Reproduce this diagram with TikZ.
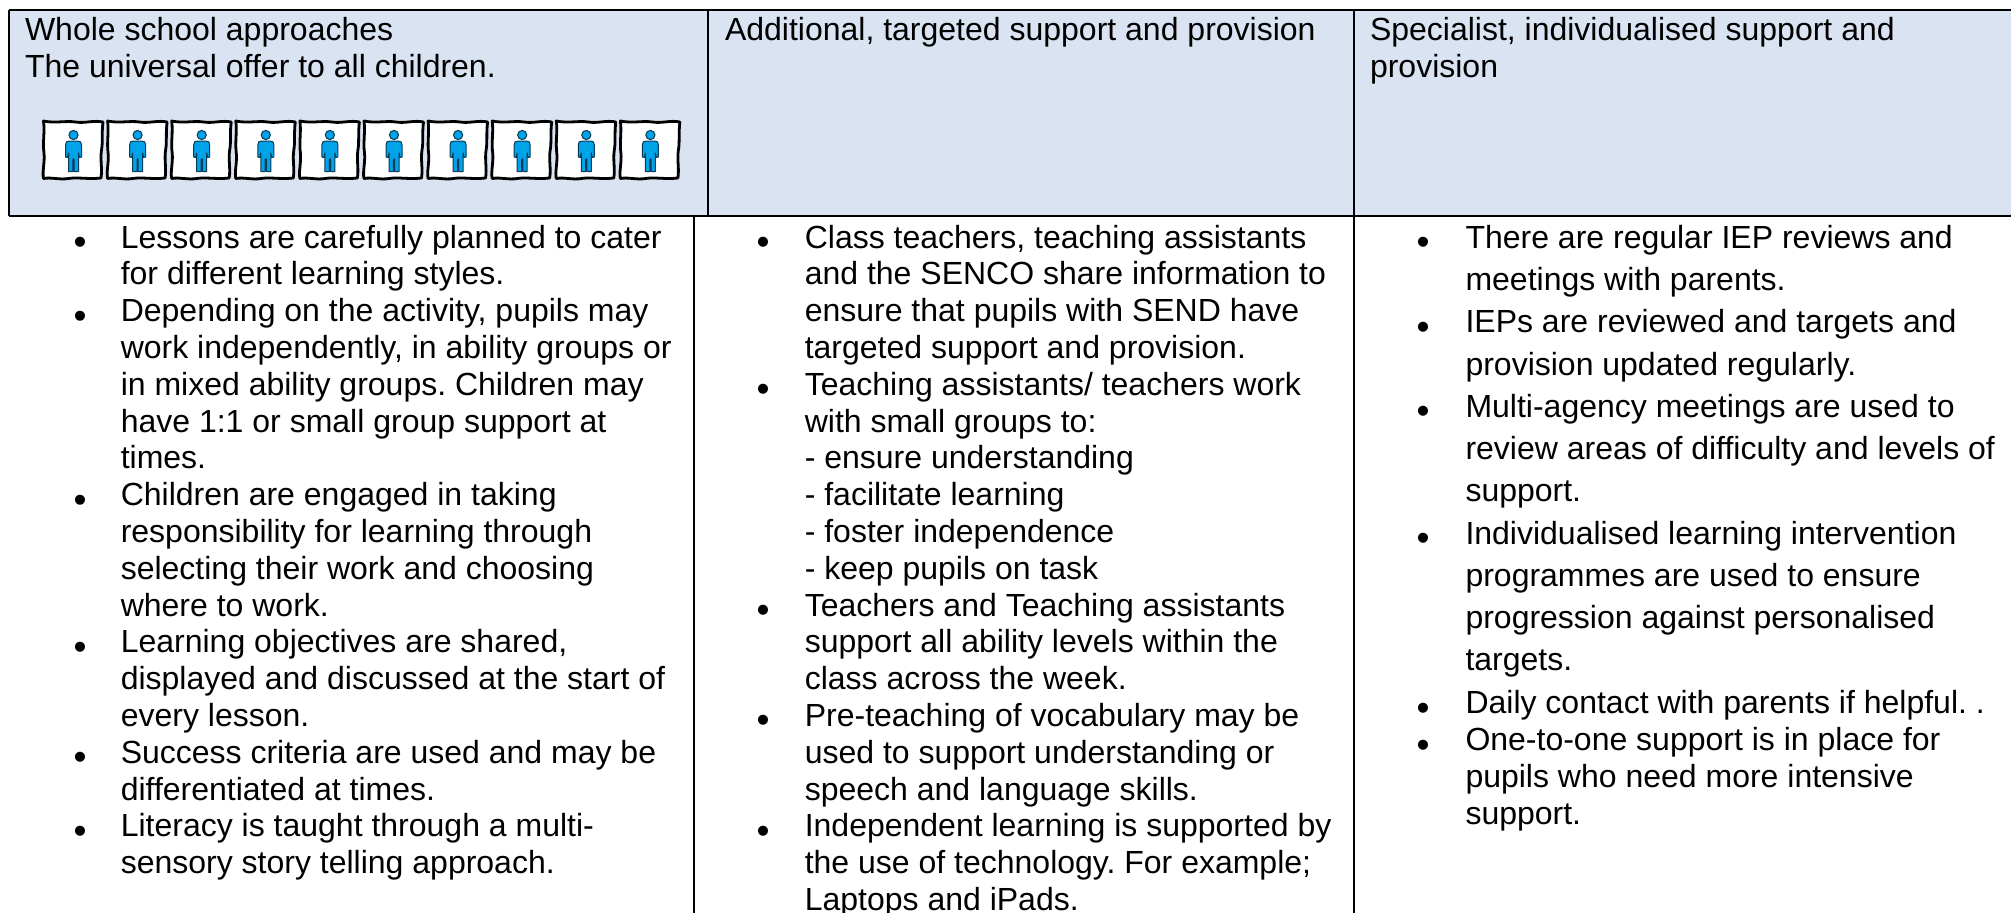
\documentclass[tikz,border=0pt]{standalone}
\usepackage{fontspec}
\setmainfont{Liberation Sans}
\definecolor{headfill}{HTML}{DAE3F1}
\definecolor{figblue}{HTML}{00A2E8}
\definecolor{figline}{HTML}{0A3A55}
\tikzset{
  rule/.style={draw=black,line width=2pt},
  txt/.style={anchor=base west,inner sep=0pt,outer sep=0pt,font=\fontsize{32}{37}\selectfont,text=black},
  bul/.style={anchor=base,inner sep=0pt,outer sep=0pt,font=\fontsize{37}{37}\selectfont,text=black},
  card/.pic={
    \fill[white] (-29,-28) rectangle (28,28);
    \draw[black,line width=2.8pt,line join=round]
      (-30,-29) .. controls (-18,-26.5) and (-8,-29.5) .. (2,-28) .. controls (12,-26.5) and (20,-30) .. (29.5,-28)
      .. controls (28,-16) and (29.5,-8) .. (28,0) .. controls (26.5,10) and (29,18) .. (27.5,28)
      .. controls (15,29.5) and (5,27) .. (-5,28.5) .. controls (-14,30) and (-22,27) .. (-30,28.5)
      .. controls (-31.5,22) and (-28.5,12) .. (-29.5,3) .. controls (-31,-8) and (-28.5,-18) .. (-30,-29) -- cycle;
    \draw[figline,fill=figblue,line width=1pt,line join=round]
      (-4,-9) .. controls (-7,-9) and (-8,-8) .. (-8,-5) -- (-8,7) -- (-6,7.5) -- (-5,3) 
      -- (-5,21.5) -- (-0.6,21.5) -- (-0.6,9) -- (0.6,9) -- (0.6,21.5) -- (5,21.5) -- (5,3) -- (6,7.5) -- (8,7) -- (8,-5)
      .. controls (8,-8) and (7,-9) .. (4,-9) -- cycle;
    \draw[figline,fill=figblue,line width=1pt] (0,-15) circle (4.6);
  }
}
\begin{document}
\frenchspacing
\begin{tikzpicture}[x=1pt,y=-1pt]
\useasboundingbox (0,0) rectangle (2011,913);
\fill[white] (0,0) rectangle (2011,913);
\fill[headfill] (9,10) rectangle (2011,216);
% grid
\coordinate (tl) at (9,10); \coordinate (tr) at (2011,10);
\coordinate (ml) at (9,216); \coordinate (mr) at (2011,216);
\coordinate (h1t) at (708,10); \coordinate (h1b) at (708,216);
\coordinate (h2t) at (1354,10); \coordinate (h2b) at (1354,216);
\coordinate (b1t) at (693.5,216); \coordinate (b1b) at (693.5,913);
\coordinate (b2t) at (1354,216); \coordinate (b2b) at (1354,913);
\draw[rule] (tl) -- (tr);
\draw[rule] (ml) -- (mr);
\draw[rule] (tl) -- (ml);
\draw[rule] (h1t) -- (h1b);
\draw[rule] (h2t) -- (h2b);
\draw[rule] (b1t) -- (b1b);
\draw[rule] (b2t) -- (b2b);
% header
\node[txt] (ha1) at (25,40) {Whole school approaches};
\node[txt] (ha2) at (25,77) {The universal offer to all children.};
\node[txt] (hb1) at (725,40) {Additional, targeted support and provision};
\node[txt] (hc1) at (1370,40) {Specialist, individualised support and};
\node[txt] (hc2) at (1370,77) {provision};
% icons
\foreach \i in {0,...,9} \pic at ({73.5+64.1*\i},150) {card};
% column 1
\newcommand{\ca}[3]{\node[txt] (#1) at (120.8,{248+36.8*#2}) {#3};}
\newcommand{\cb}[3]{\node[txt] (#1) at (804.8,{248+36.8*#2}) {#3};}
\newcommand{\cc}[3]{\node[txt] (#1) at (1465.5,#2) {#3};}
\newcommand{\ba}[1]{\node[bul] at (80,{254.5+36.8*#1}) {•};}
\newcommand{\bb}[1]{\node[bul] at (763,{254.5+36.8*#1}) {•};}
\newcommand{\bc}[1]{\node[bul] at (1423,{#1+6.5}) {•};}
\ca{a0}{0}{Lessons are carefully planned to cater}
\ca{a1}{1}{for different learning styles.}
\ca{a2}{2}{Depending on the activity, pupils may}
\ca{a3}{3}{work independently, in ability groups or}
\ca{a4}{4}{in mixed ability groups. Children may}
\ca{a5}{5}{have 1:1 or small group support at}
\ca{a6}{6}{times.}
\ca{a7}{7}{Children are engaged in taking}
\ca{a8}{8}{responsibility for learning through}
\ca{a9}{9}{selecting their work and choosing}
\ca{a10}{10}{where to work.}
\ca{a11}{11}{Learning objectives are shared,}
\ca{a12}{12}{displayed and discussed at the start of}
\ca{a13}{13}{every lesson.}
\ca{a14}{14}{Success criteria are used and may be}
\ca{a15}{15}{differentiated at times.}
\ca{a16}{16}{Literacy is taught through a multi-}
\ca{a17}{17}{sensory story telling approach.}
\foreach \n in {0,2,7,11,14,16} {\ba{\n}}
% column 2
\cb{b0}{0}{Class teachers, teaching assistants}
\cb{b1}{1}{and the SENCO share information to}
\cb{b2}{2}{ensure that pupils with SEND have}
\cb{b3}{3}{targeted support and provision.}
\cb{b4}{4}{Teaching assistants/ teachers work}
\cb{b5}{5}{with small groups to:}
\cb{b6}{6}{- ensure understanding}
\cb{b7}{7}{- facilitate learning}
\cb{b8}{8}{- foster independence}
\cb{b9}{9}{- keep pupils on task}
\cb{b10}{10}{Teachers and Teaching assistants}
\cb{b11}{11}{support all ability levels within the}
\cb{b12}{12}{class across the week.}
\cb{b13}{13}{Pre-teaching of vocabulary may be}
\cb{b14}{14}{used to support understanding or}
\cb{b15}{15}{speech and language skills.}
\cb{b16}{16}{Independent learning is supported by}
\cb{b17}{17}{the use of technology. For example;}
\cb{b18}{18}{Laptops and iPads.}
\foreach \n in {0,4,10,13,16} {\bb{\n}}
% column 3
\cc{c0}{248.2}{There are regular IEP reviews and}
\cc{c1}{290.5}{meetings with parents.}
\cc{c2}{332.8}{IEPs are reviewed and targets and}
\cc{c3}{375}{provision updated regularly.}
\cc{c4}{417.3}{Multi-agency meetings are used to}
\cc{c5}{459.5}{review areas of difficulty and levels of}
\cc{c6}{501.7}{support.}
\cc{c7}{544}{Individualised learning intervention}
\cc{c8}{586.2}{programmes are used to ensure}
\cc{c9}{628.4}{progression against personalised}
\cc{c10}{670.7}{targets.}
\cc{c11}{713.5}{Daily contact with parents if helpful. .}
\cc{c12}{750.5}{One-to-one support is in place for}
\cc{c13}{787.3}{pupils who need more intensive}
\cc{c14}{824.1}{support.}
\foreach \y in {248.2,332.8,417.3,544,713.5,750.5} {\bc{\y}}
\end{tikzpicture}
\end{document}
